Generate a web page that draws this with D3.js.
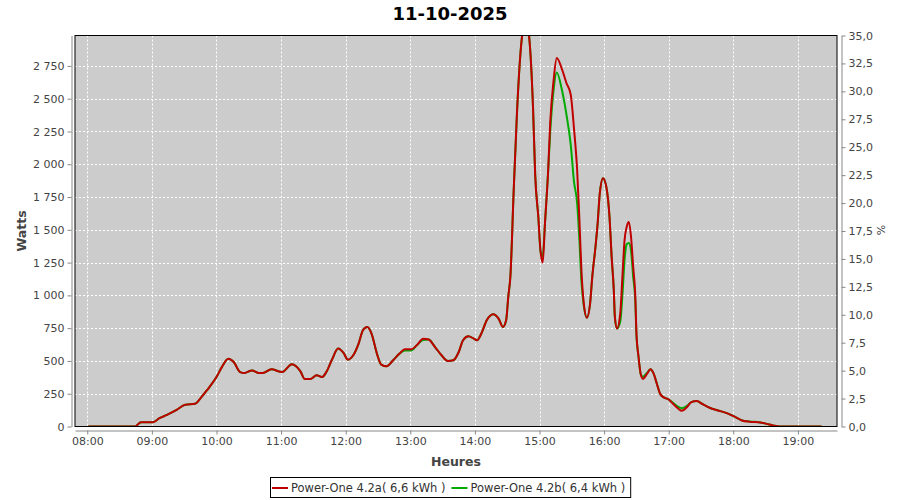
<!DOCTYPE html>
<html>
<head>
<meta charset="utf-8">
<script src="https://cdn.jsdelivr.net/npm/d3@7/dist/d3.min.js"></script>
<style>
  html, body { margin: 0; padding: 0; background: #ffffff; }
  svg { display: block; font-family: "DejaVu Sans", sans-serif; }
</style>
</head>
<body>
<svg id="chart" width="900" height="500"></svg>
<script>
// ---------------- data ----------------
const chartTitle = "11-10-2025";
const times = ["08:01","08:44","08:50","09:01","09:07","09:14","09:23","09:31","09:40","09:46","09:51","10:00","10:05","10:11","10:16","10:22","10:26","10:33","10:39","10:43","10:51","11:01","11:10","11:18","11:22","11:27","11:33","11:38","11:42","11:47","11:53","11:58","12:02","12:07","12:12","12:16","12:20","12:24","12:29","12:33","12:38","12:44","12:50","12:55","13:01","13:06","13:12","13:17","13:23","13:29","13:35","13:40","13:45","13:49","13:54","13:59","14:02","14:06","14:11","14:17","14:22","14:26","14:29","14:31","14:33","14:36","14:39","14:42","14:45","14:47","14:50","14:54","14:56","14:59","15:01","15:03","15:05","15:08","15:10","15:13","15:16","15:21","15:25","15:29","15:32","15:35","15:37","15:39","15:41","15:44","15:47","15:49","15:52","15:54","15:56","15:59","16:02","16:05","16:07","16:09","16:10","16:12","16:15","16:17","16:19","16:21","16:23","16:25","16:27","16:29","16:30","16:32","16:34","16:36","16:40","16:43","16:46","16:49","16:52","16:55","17:00","17:04","17:09","17:12","17:17","17:21","17:26","17:32","17:38","17:46","17:54","18:02","18:08","18:15","18:25","18:31","18:37","18:43","19:22"];

const powerA = [0,0,33,33,63,89,127,166,173,224,275,377,453,517,492,415,408,428,408,408,436,415,474,420,362,362,390,377,415,505,594,561,510,543,632,734,759,709,556,472,459,505,556,589,589,619,670,663,606,543,499,505,568,658,688,670,658,709,810,856,823,759,810,989,1150,1791,2378,2811,3050,3100,3000,2428,1919,1587,1333,1250,1537,1944,2327,2633,2811,2722,2620,2531,2276,1950,1587,1180,950,830,938,1141,1371,1549,1779,1894,1830,1600,1294,1040,836,747,862,1141,1422,1524,1560,1447,1218,989,720,530,400,364,403,436,403,326,250,224,206,173,135,120,148,186,194,168,143,122,102,71,46,36,31,20,8,0,0];

const powerB = [0,0,33,33,63,89,127,166,173,224,275,377,453,517,492,415,408,428,408,408,436,415,474,420,362,362,390,377,415,505,594,561,510,543,632,734,759,709,556,472,459,505,556,580,580,619,660,663,606,543,499,505,568,658,688,670,658,709,810,856,823,759,810,989,1150,1791,2378,2811,3050,3100,3000,2428,1919,1587,1333,1300,1537,1944,2250,2560,2700,2560,2380,2150,1870,1700,1430,1100,930,830,938,1141,1371,1549,1779,1894,1830,1600,1294,1040,836,747,800,1000,1270,1390,1400,1340,1140,950,700,530,400,380,410,436,403,326,250,224,206,180,150,140,158,186,194,168,143,122,102,71,46,38,31,20,8,0,0];

const seriesNames = ["Power-One 4.2a( 6,6 kWh )", "Power-One 4.2b( 6,4 kWh )"];
const seriesColors = ["#c00000", "#00aa00"];
const leftTicks = [0,250,500,750,1000,1250,1500,1750,2000,2250,2500,2750];
const rightTicks = [0,2.5,5,7.5,10,12.5,15,17.5,20,22.5,25,27.5,30,32.5,35];
const hourTicks = ["08:00","09:00","10:00","11:00","12:00","13:00","14:00","15:00","16:00","17:00","18:00","19:00"];
const xStart = "07:48:36", xEnd = "19:36:18";
const leftMax = 2982, rightMax = 35;
const leftLabel = "Watts", rightLabel = "%", xLabel = "Heures";

// ---------------- layout ----------------
const svg = d3.select("#chart");
const P = { left: 75, right: 837, top: 35.5, bottom: 426.5 };

const parseT = s => {
  const p = s.split(":").map(Number);
  return new Date(2025, 9, 11, p[0], p[1], p[2] || 0);
};

const x = d3.scaleTime().domain([parseT(xStart), parseT(xEnd)]).range([P.left, P.right]);
const yL = d3.scaleLinear().domain([0, leftMax]).range([P.bottom, P.top]);
const yR = d3.scaleLinear().domain([0, rightMax]).range([P.bottom, P.top]);

const loc = d3.formatLocale({ decimal: ",", thousands: "\u00a0", grouping: [3], currency: ["", ""] });
const fmtL = loc.format(",d");
const fmtR = loc.format(".1f");
const fmtT = d3.timeFormat("%H:%M");

// title
svg.append("text").attr("x", 450).attr("y", 20).attr("text-anchor", "middle")
  .attr("font-size", 18).attr("font-weight", "bold").attr("fill", "#000").text(chartTitle);

// plot background
svg.append("rect").attr("x", P.left).attr("y", P.top).attr("width", P.right - P.left)
  .attr("height", P.bottom - P.top).attr("fill", "#cccccc");

// grid
const hourDates = hourTicks.map(parseT);
const grid = svg.append("g").attr("stroke", "#ffffff").attr("stroke-width", 1).attr("stroke-dasharray", "2,2");
grid.selectAll("line.v").data(hourDates).join("line").attr("class", "v")
  .attr("x1", d => Math.round(x(d)) + 0.5).attr("x2", d => Math.round(x(d)) + 0.5)
  .attr("y1", P.top).attr("y2", P.bottom);
grid.selectAll("line.h").data(leftTicks.filter(v => v > 0)).join("line").attr("class", "h")
  .attr("y1", d => Math.round(yL(d)) + 0.5).attr("y2", d => Math.round(yL(d)) + 0.5)
  .attr("x1", P.left).attr("x2", P.right);

// clip
svg.append("clipPath").attr("id", "clip").append("rect")
  .attr("x", P.left).attr("y", P.top).attr("width", P.right - P.left).attr("height", P.bottom - P.top);

const line = d3.line().x(d => x(d.t)).y(d => yL(d.v)).curve(d3.curveMonotoneX);
const dataA = times.map((t, i) => ({ t: parseT(t), v: powerA[i] }));
const dataB = times.map((t, i) => ({ t: parseT(t), v: powerB[i] }));

const lines = svg.append("g").attr("clip-path", "url(#clip)");
lines.append("path").datum(dataB).attr("d", line).attr("fill", "none")
  .attr("stroke", seriesColors[1]).attr("stroke-width", 2).attr("stroke-linejoin", "round");
lines.append("path").datum(dataA).attr("d", line).attr("fill", "none")
  .attr("stroke", seriesColors[0]).attr("stroke-width", 2).attr("stroke-linejoin", "round");

// plot border
svg.append("rect").attr("x", P.left).attr("y", P.top).attr("width", P.right - P.left)
  .attr("height", P.bottom - P.top).attr("fill", "none").attr("stroke", "#000").attr("stroke-width", 1);

// axes
function styleAxis(g) {
  g.select(".domain").attr("stroke", "#888888");
  g.selectAll(".tick line").attr("stroke", "#888888");
  g.selectAll(".tick text").attr("fill", "#444444").attr("font-size", 11)
    .attr("font-family", "DejaVu Sans, sans-serif");
}
svg.append("g").attr("transform", "translate(71.5,0)")
  .call(d3.axisLeft(yL).tickValues(leftTicks).tickFormat(fmtL).tickSize(4).tickPadding(3).tickSizeOuter(0))
  .call(styleAxis);
svg.append("g").attr("transform", "translate(841.5,0)")
  .call(d3.axisRight(yR).tickValues(rightTicks).tickFormat(fmtR).tickSize(4).tickPadding(3).tickSizeOuter(0))
  .call(styleAxis);
svg.append("g").attr("transform", "translate(0,430.5)")
  .call(d3.axisBottom(x).tickValues(hourDates).tickFormat(fmtT).tickSize(4).tickPadding(3).tickSizeOuter(0))
  .call(styleAxis);

// axis labels
svg.append("text").attr("transform", "translate(26,231) rotate(-90)").attr("text-anchor", "middle")
  .attr("font-size", 12.5).attr("font-weight", "bold").attr("fill", "#444444").text(leftLabel);
svg.append("text").attr("x", 456).attr("y", 466).attr("text-anchor", "middle")
  .attr("font-size", 12.5).attr("font-weight", "bold").attr("fill", "#444444").text(xLabel);
svg.append("text").attr("transform", "translate(885,230) rotate(-90)").attr("text-anchor", "middle")
  .attr("font-size", 11).attr("fill", "#444444").text(rightLabel);

// legend
const leg = svg.append("g");
const box = leg.append("rect").attr("y", 477.5).attr("height", 20).attr("fill", "#fff")
  .attr("stroke", "#000").attr("stroke-width", 1);
let cx = 0;
seriesNames.forEach((name, i) => {
  leg.append("line").attr("x1", cx + 2).attr("x2", cx + 18).attr("y1", 488).attr("y2", 488)
    .attr("stroke", seriesColors[i]).attr("stroke-width", 2);
  const tx = leg.append("text").attr("x", cx + 21).attr("y", 492).attr("font-size", 11.5)
    .attr("fill", "#333333").text(name);
  const w = tx.node().getComputedTextLength();
  cx += 21 + w + 4;
});
const totalW = cx + 1;
const lx = 450 - totalW / 2;
box.attr("x", 0.5).attr("width", totalW);
leg.attr("transform", `translate(${Math.round(lx)},0)`);
</script>
</body>
</html>
